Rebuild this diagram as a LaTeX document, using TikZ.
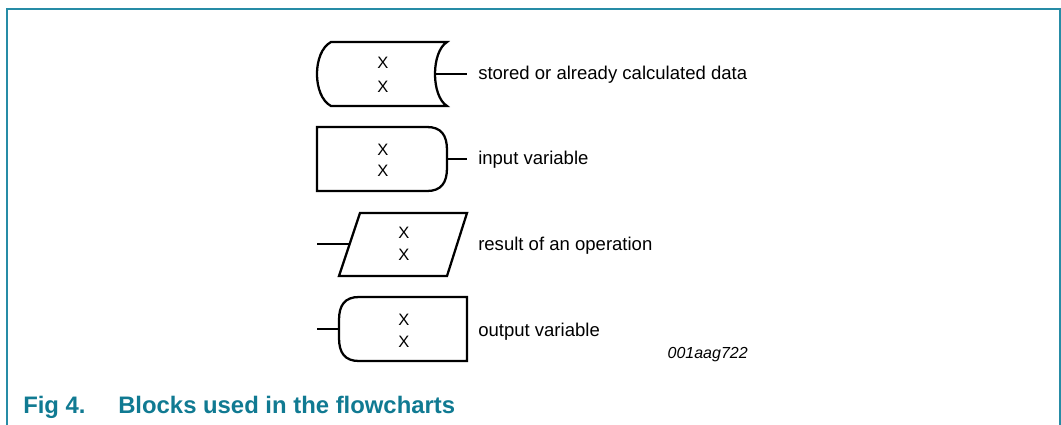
\documentclass[tikz,border=0pt]{standalone}
\usepackage{fontspec}
\setmainfont{Liberation Sans}
\definecolor{frameteal}{RGB}{38,140,166}
\definecolor{capteal}{RGB}{16,122,146}
\tikzset{
  blk/.style={line width=1.7pt, line join=miter},
  conn/.style={line width=1pt},
  lbl/.style={anchor=base west, inner sep=0pt, font=\fontsize{13.9pt}{16pt}\selectfont},
  xmark/.style={inner sep=0pt, font=\fontsize{12.4pt}{14pt}\selectfont},
  frm/.style={draw=frameteal, line width=1.5pt},
  captxt/.style={anchor=base west, inner sep=0pt, text=capteal, font=\fontsize{17.9pt}{20pt}\selectfont\bfseries},
}
\begin{document}
\begin{tikzpicture}[x=0.75pt,y=-0.75pt]
\useasboundingbox (0,0) rectangle (1061,425);
% frame
\draw[frm] (6.5,426) -- (6.5,8.5) -- (1059.5,8.5) -- (1059.5,426);

% shape 1: stored data
\draw[blk] (331,42) -- (447,42) .. controls (431,52) and (431,96) .. (447,106)
  -- (331,106) .. controls (312.3,96) and (312.3,52) .. (331,42) -- cycle;
\coordinate (s1out) at (435,74);
\coordinate (s1end) at (467,74);
\node[xmark] (x1a) at (383,62.7) {X};
\node[xmark] (x1b) at (383,86.7) {X};
\draw[conn] (s1out) -- (s1end);
\node[lbl] (l1) at (478,79.5) {stored or already calculated data};

% shape 2: input variable
\draw[blk] (317,127) -- (427,127) .. controls (441,127) and (447,135) .. (447,150)
  -- (447,168) .. controls (447,183) and (441,191) .. (427,191) -- (317,191) -- cycle;
\coordinate (s2out) at (447,159);
\coordinate (s2end) at (467,159);
\node[xmark] (x2a) at (383,150) {X};
\node[xmark] (x2b) at (383,170.7) {X};
\draw[conn] (s2out) -- (s2end);
\node[lbl] (l2) at (478,164.5) {input variable};

% shape 3: result of an operation
\draw[blk] (360,213) -- (467,213) -- (447,276) -- (339,276) -- cycle;
\coordinate (s3in) at (349.7,244);
\coordinate (s3start) at (317,244);
\node[xmark] (x3a) at (404,232.7) {X};
\node[xmark] (x3b) at (404,255) {X};
\draw[conn] (s3start) -- (s3in);
\node[lbl] (l3) at (478,250) {result of an operation};

% shape 4: output variable
\draw[blk] (467,297) -- (359,297) .. controls (345,297) and (339,305) .. (339,320)
  -- (339,338) .. controls (339,353) and (345,361) .. (359,361) -- (467,361) -- cycle;
\coordinate (s4in) at (339,329);
\coordinate (s4start) at (317,329);
\node[xmark] (x4a) at (404,320) {X};
\node[xmark] (x4b) at (404,342) {X};
\draw[conn] (s4start) -- (s4in);
\node[lbl] (l4) at (478,336) {output variable};

\node[anchor=base east, inner sep=0pt, font=\fontsize{12pt}{14pt}\selectfont\itshape] (id) at (748,358) {001aag722};

% caption
\node[captxt] (cap1) at (23,413.3) {Fig 4.};
\node[captxt] (cap2) at (118,413.3) {Blocks used in the flowcharts};
\end{tikzpicture}
\end{document}
